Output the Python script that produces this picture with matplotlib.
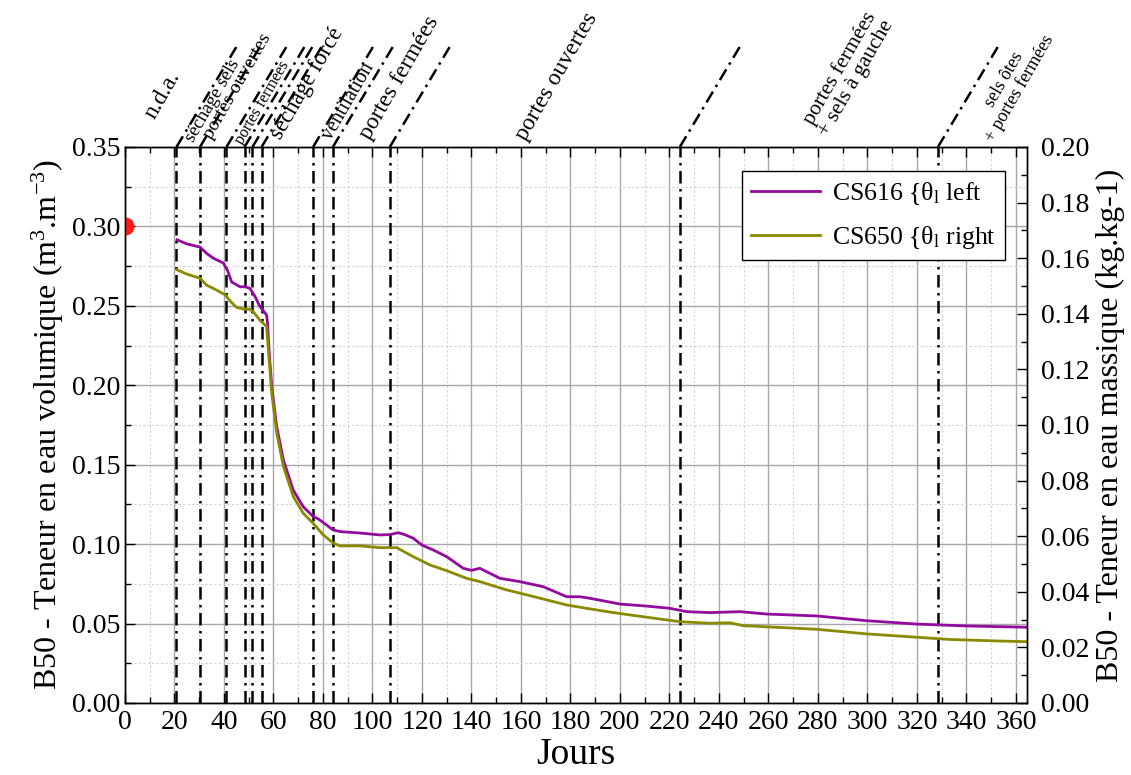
import matplotlib
matplotlib.use("Agg")
import matplotlib.pyplot as plt
from matplotlib.ticker import MultipleLocator, FormatStrFormatter

plt.rcParams['font.family'] = ['Liberation Serif', 'DejaVu Serif']
plt.rcParams['mathtext.fontset'] = 'custom'
plt.rcParams['mathtext.rm'] = 'Liberation Serif'
plt.rcParams['mathtext.it'] = 'Liberation Serif:italic'
plt.rcParams['mathtext.bf'] = 'Liberation Serif:bold'

# ---------------- data ----------------
cs616_days = [21, 25, 30.3, 33, 35.7, 39.7, 41.5, 43.1, 46.5, 48.5, 50.5, 52.5, 54.5, 57.2,
              57.6, 58.3, 59.3, 61.3, 64, 68, 72, 76.1, 78, 81.5, 84, 86.9, 95, 103, 107,
              110.4, 113, 116.5, 119.9, 124.6, 130, 136.7, 140, 143.4, 151.5, 159.6, 169,
              178.5, 183.8, 187.9, 200, 210.8, 220.2, 227, 236.4, 248.5, 259.3, 279.5,
              299.7, 319.9, 340, 364.3]
cs616_vals = [0.2916, 0.289, 0.287, 0.283, 0.280, 0.277, 0.272, 0.265, 0.262, 0.262, 0.261,
              0.256, 0.2496, 0.2443, 0.239, 0.220, 0.199, 0.174, 0.153, 0.134, 0.1236, 0.1173,
              0.116, 0.112, 0.109, 0.1079, 0.107, 0.1058, 0.106, 0.1072, 0.106, 0.1037, 0.0995,
              0.0963, 0.0921, 0.0848, 0.0835, 0.0848, 0.0785, 0.0764, 0.0732, 0.0669, 0.0669,
              0.0659, 0.0623, 0.061, 0.0596, 0.0575, 0.0569, 0.0575, 0.056, 0.0548, 0.0518,
              0.0497, 0.0485, 0.0477]

cs650_days = [21, 25, 30.3, 33, 35.7, 40.4, 42.5, 45.1, 48, 50.5, 52, 54.5, 57.2, 58.3, 59.3,
              61.3, 64, 68, 72, 76.1, 80, 84.2, 86.9, 95, 103, 109.8, 116.5, 123.2, 130, 138,
              143.4, 154.2, 161, 170.4, 178.5, 186.5, 197.3, 210.8, 224.2, 236.4, 244.4, 249.8,
              279.5, 299.7, 326.6, 333.3, 353.5, 364.3]
cs650_vals = [0.2727, 0.270, 0.2674, 0.263, 0.261, 0.257, 0.253, 0.249, 0.248, 0.2479, 0.246,
              0.241, 0.237, 0.215, 0.195, 0.170, 0.149, 0.130, 0.1195, 0.113, 0.106, 0.1006,
              0.0989, 0.0989, 0.0978, 0.0978, 0.0921, 0.0869, 0.0833, 0.0785, 0.0764, 0.0712,
              0.0686, 0.0649, 0.0617, 0.0596, 0.0569, 0.054, 0.0512, 0.0502, 0.0505, 0.0487,
              0.0464, 0.0435, 0.0407, 0.040, 0.039, 0.0386]

initial_day = [0]
initial_val = [0.30]

event_days = [20.8, 30.3, 41, 48.3, 51.5, 55.2, 76, 84, 107, 224.2, 328.5]

event_labels = ["n.d.a.", "séchage sels", "portes ouvertes", "portes fermées",
                "séchage forcé", "ventilation", "portes fermées", "portes ouvertes",
                "portes fermées\n+ sels à gauche", "sels ôtes\n+ portes fermées"]

series_labels = ["CS616 {θ$_\\mathrm{l}$ left", "CS650 {θ$_\\mathrm{l}$ right"]

# ---------------- figure ----------------
W, H = 1131, 775
fig = plt.figure(figsize=(W / 100, H / 100), dpi=100)
ax = fig.add_axes([125 / W, 1 - 703 / H, (1027 - 125) / W, (703 - 147) / H])

ax.set_xlim(0, 364.5)
ax.set_ylim(0, 0.35)

purple = '#920a9e'
olive = '#8a8a00'

l1, = ax.plot(cs616_days, cs616_vals, color=purple, lw=2, zorder=4)
l2, = ax.plot(cs650_days, cs650_vals, color=olive, lw=2, zorder=4)
sc = ax.scatter(initial_day, initial_val, s=13 ** 2, color='#ff1a1a', zorder=5,
                linewidths=0)
sc.set_clip_path(ax.patch)

# event lines
dash = (5, 2.2, 1, 2.2)
for d in event_days:
    ax.axvline(d, color='black', lw=1.8, dashes=dash, zorder=3)
    ax.plot([d, d + 24.2], [0.35, 0.35 + 0.063], color='black', lw=1.8,
            dashes=dash, clip_on=False, zorder=3)

# annotation labels (x in days, y in axes fraction)
trans = ax.get_xaxis_transform()
simple_pos = [(12.0, 1.049, 17), (27.8, 1.008, 13.5), (35.0, 1.012, 14), (47.3, 1.004, 11.5),
              (62.8, 1.011, 16.5), (83.3, 1.011, 14.5), (99.0, 1.011, 17), (162.0, 1.009, 17)]
for lab, (x, y, fs) in zip(event_labels[:8], simple_pos):
    ax.text(x, y, lab, transform=trans, rotation=60, rotation_mode='anchor',
            ha='left', va='baseline', fontsize=fs, clip_on=False)
multi_pos = [(292.1, 1.133, 15.5), (358.4, 1.113, 13)]
for lab, (x, y, fs) in zip(event_labels[8:], multi_pos):
    ax.text(x, y, lab, transform=trans, rotation=60, rotation_mode='anchor',
            ha='center', va='center', multialignment='center', fontsize=fs,
            clip_on=False, linespacing=1.0)

# ticks & grid
ax.xaxis.set_major_locator(MultipleLocator(20))
ax.xaxis.set_minor_locator(MultipleLocator(10))
ax.yaxis.set_major_locator(MultipleLocator(0.05))
ax.yaxis.set_minor_locator(MultipleLocator(0.025))
ax.yaxis.set_major_formatter(FormatStrFormatter('%.2f'))
ax.grid(which='major', color='#a8a8a8', lw=1.0, ls='-', zorder=0)
ax.grid(which='minor', color='#d2d2d2', lw=0.8, ls=(0, (2, 2)), zorder=0)
ax.set_axisbelow(True)
ax.tick_params(which='both', direction='in', top=True, right=False, labelsize=20)
ax.tick_params(which='major', length=7, width=1)
ax.tick_params(which='minor', length=4, width=1)
ax.tick_params(axis='x', pad=5)
ax.tick_params(axis='y', pad=3.5)

ax.set_xlabel('Jours', fontsize=27, labelpad=2)
ax.set_ylabel('B50 - Teneur en eau volumique (m$^{3}$.m$^{-3}$)', fontsize=23, labelpad=4)

ax2 = ax.twinx()
ax2.set_ylim(0, 0.20)
ax2.yaxis.set_major_locator(MultipleLocator(0.02))
ax2.yaxis.set_minor_locator(MultipleLocator(0.01))
ax2.yaxis.set_major_formatter(FormatStrFormatter('%.2f'))
ax2.tick_params(which='both', direction='in', labelsize=20, pad=10)
ax2.tick_params(which='major', length=7, width=1)
ax2.tick_params(which='minor', length=4, width=1)
ax2.set_ylabel('B50 - Teneur en eau massique (kg.kg-1)', fontsize=23, labelpad=5)

for a in (ax, ax2):
    for s in a.spines.values():
        s.set_color('black')
        s.set_linewidth(1.0)

leg = ax.legend([l1, l2], series_labels, loc='upper right',
                bbox_to_anchor=((1005 - 125) / 902, (703 - 171) / 556), borderaxespad=0,
                fontsize=18.5, frameon=True, fancybox=False, edgecolor='black',
                framealpha=1, handlelength=2.7, handletextpad=0.45,
                borderpad=0.35, labelspacing=0.65)
leg.get_frame().set_linewidth(1.0)
leg.set_zorder(10)

fig.savefig('out.png', dpi=100)
